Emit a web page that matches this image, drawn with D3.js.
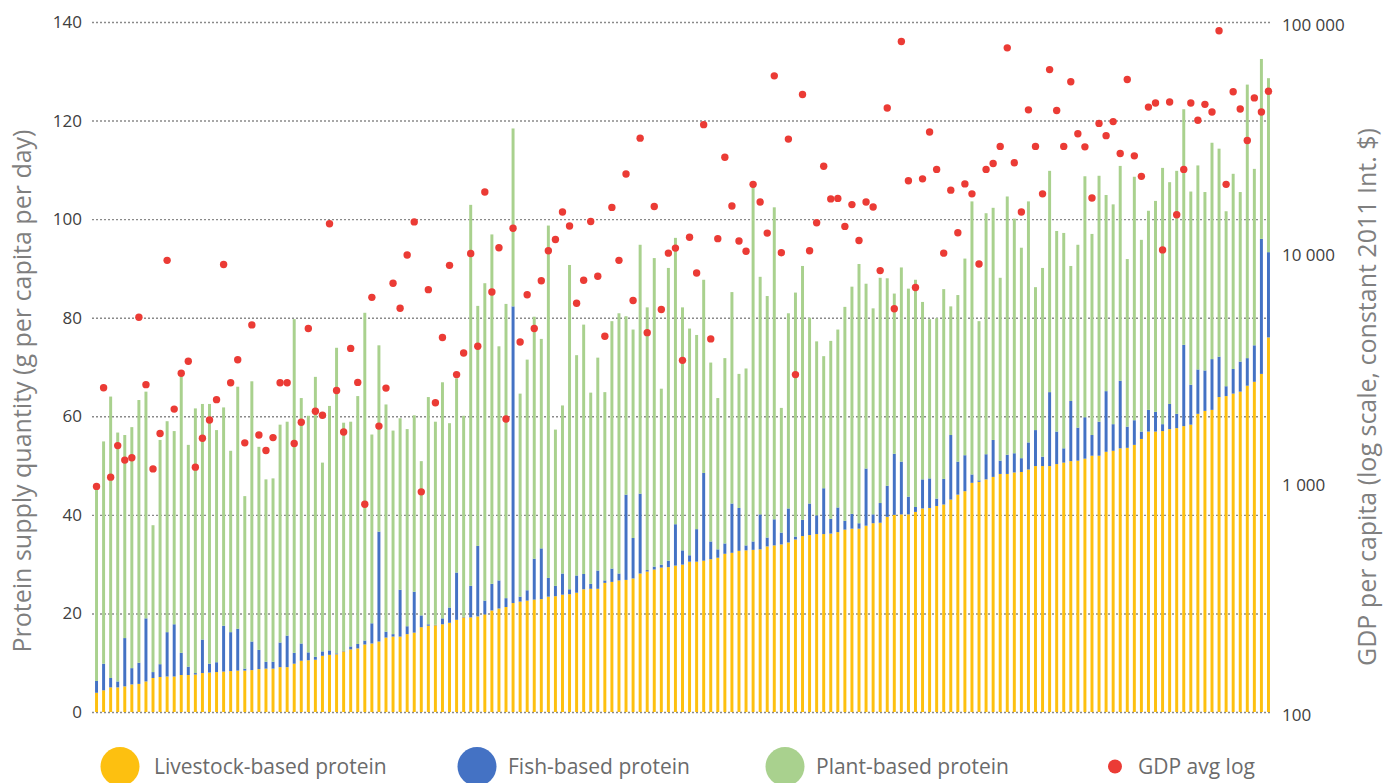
<!DOCTYPE html>
<html>
<head>
<meta charset="utf-8">
<script src="https://cdn.jsdelivr.net/npm/d3@7"></script>
<style>
  body { margin: 0; background: #fff; }
  svg { display: block; font-family: "Open Sans", sans-serif; }
</style>
</head>
<body>
<script>

/******** Data (one entry per country, sorted by livestock protein) *********/

var livestock = [3.9,4.4,5.0,5.0,5.2,5.6,5.7,6.2,6.9,7.1,7.2,7.2,7.5,7.5,7.6,7.9,8.0,8.1,8.2,8.3,
  8.4,8.4,8.5,8.7,8.8,8.8,9.1,9.1,9.8,10.4,10.5,10.6,11.4,11.6,11.7,12.3,12.7,12.9,13.7,13.9,
  14.3,15.1,15.3,15.3,15.8,16.1,17.2,17.5,17.6,17.8,18.1,18.7,19.2,19.2,19.4,19.8,20.6,21.0,21.3,22.1,
  22.4,22.6,22.8,22.9,23.4,23.5,23.8,23.9,24.2,24.9,25.0,25.0,26.2,26.4,26.7,26.8,27.1,28.1,28.5,28.9,
  29.3,29.4,29.7,29.9,30.5,30.5,30.7,31.0,31.3,32.1,32.3,32.7,32.8,32.9,33.0,33.6,33.8,34.0,34.4,35.0,
  35.7,35.9,36.1,36.1,36.2,36.5,37.0,37.2,37.2,37.8,38.3,38.4,39.6,40.0,40.1,40.1,40.6,41.3,41.4,41.8,
  42.1,43.1,44.1,44.8,46.5,46.7,47.2,47.7,48.3,48.3,48.6,48.7,49.2,49.9,49.9,49.9,50.3,50.6,50.9,51.0,
  51.4,52.0,52.0,52.8,53.0,53.5,53.6,54.2,55.4,56.9,56.9,57.0,57.4,57.6,58.0,58.3,60.5,61.1,61.3,63.9,
  64.1,64.6,65.0,66.2,67.0,68.6,76.0]

var fish = [2.4,5.4,1.9,1.2,9.8,3.3,4.3,12.8,1.2,2.6,9.0,10.6,4.5,1.7,0.3,6.8,1.8,2.0,9.3,7.9,
  8.5,0.4,5.8,3.9,1.4,1.4,5.0,6.4,2.2,3.5,1.6,0.6,0.9,0.9,0.2,0.1,0.6,0.9,0.8,4.1,
  22.3,1.2,0.5,9.5,1.6,8.3,2.4,0.3,0.1,1.2,3.1,9.6,0.1,6.4,14.3,2.8,5.4,5.7,1.8,60.2,
  1.0,2.1,8.3,10.3,3.8,2.1,4.3,1.0,3.5,3.1,1.0,3.7,0.5,2.7,1.4,17.3,8.2,16.2,0.3,0.6,
  0.6,1.3,8.4,2.9,1.3,6.6,17.8,3.6,1.7,2.1,10.0,8.7,1.0,1.7,7.1,1.8,5.3,2.4,6.9,0.6,
  3.3,6.4,3.8,9.3,3.0,5.0,1.8,3.0,1.1,11.6,1.8,4.0,6.3,12.4,10.7,3.6,1.0,5.9,6.0,1.5,
  5.2,13.1,6.7,7.3,1.7,0.3,5.1,7.5,2.7,3.9,3.9,2.8,5.5,7.3,1.9,15.0,6.6,2.9,12.2,6.7,
  8.4,4.2,6.9,12.3,5.4,13.7,4.3,5.0,1.5,4.4,4.0,1.4,5.1,2.9,16.5,8.1,9.0,8.2,10.3,8.2,
  2.0,5.0,6.1,5.6,7.4,27.4,17.3]

var plant = [38.8,45.1,57.1,50.5,41.2,48.9,53.3,46.0,29.8,45.5,42.8,39.2,56.7,45.0,53.7,47.8,52.7,47.1,44.3,36.8,
  49.1,35.0,52.8,41.2,37.0,37.2,44.2,43.4,67.7,49.8,48.0,56.8,38.3,49.6,62.0,46.3,45.6,50.3,66.5,38.3,
  37.8,46.1,41.3,34.8,40.0,35.8,31.3,46.1,41.2,47.9,37.4,39.4,40.8,77.3,48.7,64.4,70.9,47.5,59.7,36.1,
  41.2,46.8,49.1,42.5,71.5,31.7,34.1,65.8,44.7,50.6,38.8,43.2,38.2,50.2,52.8,36.2,42.3,50.5,53.3,62.6,
  35.7,59.4,58.1,49.3,46.0,39.4,39.2,36.3,30.7,37.6,42.9,27.2,35.9,72.2,48.2,49.0,63.3,25.3,39.6,49.5,
  51.5,37.7,35.3,26.8,36.1,36.1,43.4,46.1,52.6,37.5,41.8,45.7,42.1,32.5,39.4,42.2,46.1,36.0,32.3,36.6,
  38.5,26.1,33.8,39.9,55.4,32.3,48.9,47.1,37.1,52.4,47.6,42.7,48.9,29.0,38.3,44.9,40.7,43.7,27.4,37.1,
  48.9,40.8,49.9,39.8,44.6,43.6,34.0,49.4,38.9,40.4,42.8,52.0,45.0,49.3,47.8,39.2,41.4,36.2,43.9,42.2,
  35.5,39.6,34.4,55.5,35.8,36.5,35.3]

var gdp = [957,2570,1050,1440,1245,1275,5200,2650,1140,1625,9200,2075,2970,3350,1160,1550,1860,2280,8830,2700,
  3400,1480,4820,1600,1370,1560,2700,2700,1470,1820,4650,2030,1950,13270,2500,1650,3810,2710,800,6350,
  1750,2560,7310,5690,9710,13520,906,6860,2210,4250,8750,2930,3640,9850,3890,18230,6700,10440,1880,12680,
  4060,6520,4650,7500,10120,11330,14930,12980,5990,7540,13580,7850,4300,15630,9200,21840,6150,31260,4460,15770,
  5620,9890,10400,3380,11590,8110,35790,4190,11430,25820,15850,11170,10070,19680,16490,12080,58340,9930,30970,2930,
  48420,10120,13400,23600,17020,17100,12920,16070,11220,16490,15700,8300,42270,5670,82220,20420,7010,20800,33270,22860,
  9890,18570,12130,19770,17900,8870,22860,24250,28780,77200,24450,14930,41500,28780,17900,62100,41200,28780,54950,32680,
  28660,17180,36240,32060,36900,26790,56230,26180,21330,42660,44460,10210,44870,14530,22860,44460,37410,43850,40600,91660,
  19680,49780,41880,30550,46770,40600,50000]

var proteinTicks = [0, 20, 40, 60, 80, 100, 120, 140]
var gdpTicks = [100, 1000, 10000, 100000]

var seriesNames = ["Livestock-based protein", "Fish-based protein", "Plant-based protein", "GDP avg log"]
var seriesColors = ["#FDC010", "#4472C4", "#A9D18E", "#EB3B35"]

/******** Setup *********/

var width = 1394, height = 783
var plotLeft = 93, plotRight = 1272, plotTop = 22, plotBottom = 712

var svg = d3.select("body")
  .append("svg")
    .attr("width", width)
    .attr("height", height)

var rows = livestock.map(function(d, i){
  return { idx: i, livestock: d, fish: fish[i], plant: plant[i], gdp: gdp[i] }
})

/******** Scales *********/

var x = d3.scaleBand()
  .domain(d3.range(rows.length))
  .range([plotLeft, plotRight])
  .paddingInner(0.58)
  .paddingOuter(0.29)

var y = d3.scaleLinear()
  .domain([0, 140])
  .range([plotBottom, plotTop])

var yGdp = d3.scaleLog()
  .domain([100, 100000])
  .range([plotBottom, plotTop])

/******** Grid *********/

svg.append("g")
  .selectAll("line")
  .data(proteinTicks)
  .enter()
  .append("line")
    .attr("x1", plotLeft - 1)
    .attr("x2", plotRight)
    .attr("y1", function(d){ return y(d) + 0.5 })
    .attr("y2", function(d){ return y(d) + 0.5 })
    .attr("stroke", "#8a8a8a")
    .attr("stroke-width", 1.4)
    .attr("stroke-dasharray", "2,2")

/******** Stacked bars *********/

var stack = d3.stack().keys(["livestock", "fish", "plant"])
var layers = stack(rows)

svg.append("g")
  .selectAll("g")
  .data(layers)
  .enter()
  .append("g")
    .attr("fill", function(d, i){ return seriesColors[i] })
  .selectAll("rect")
  .data(function(d){ return d })
  .enter()
  .append("rect")
    .attr("x", function(d){ return x(d.data.idx) })
    .attr("width", x.bandwidth())
    .attr("y", function(d){ return y(d[1]) })
    .attr("height", function(d){ return Math.max(0, y(d[0]) - y(d[1])) })

/******** GDP dots *********/

svg.append("g")
  .selectAll("circle")
  .data(rows)
  .enter()
  .append("circle")
    .attr("cx", function(d){ return x(d.idx) + x.bandwidth() / 2 })
    .attr("cy", function(d){ return yGdp(d.gdp) })
    .attr("r", 3.7)
    .attr("fill", seriesColors[3])

/******** Axes *********/

var leftAxis = d3.axisLeft(y)
  .tickValues(proteinTicks)
  .tickSize(0)
  .tickPadding(11)

var rightAxis = d3.axisRight(yGdp)
  .tickValues(gdpTicks)
  .tickSize(0)
  .tickPadding(10)
  .tickFormat(function(d){ return d3.format(",")(d).replace(/,/g, " ") })

var gl = svg.append("g")
  .attr("transform", "translate(" + plotLeft + ",0)")
  .call(leftAxis)

var gr = svg.append("g")
  .attr("transform", "translate(" + plotRight + ",3)")
  .call(rightAxis)

gl.select(".domain").remove()
gr.select(".domain").remove()

svg.selectAll(".tick text")
  .attr("font-family", "Open Sans")
  .attr("font-size", "17px")
  .attr("fill", "#404040")

/******** Axis titles *********/

svg.append("text")
  .attr("transform", "translate(31, 391) rotate(-90)")
  .attr("text-anchor", "middle")
  .attr("font-size", "25px")
  .attr("fill", "#7f7f7f")
  .text("Protein supply quantity (g per capita per day)")

svg.append("text")
  .attr("transform", "translate(1376, 397) rotate(-90)")
  .attr("text-anchor", "middle")
  .attr("font-size", "25px")
  .attr("fill", "#7f7f7f")
  .text("GDP per capita (log scale, constant 2011 Int. $)")

/******** Legend *********/

var legendX = [120, 477, 785, 1115]
var legendR = [19.5, 19.5, 19.5, 7]
var textX = [154, 508, 816, 1138]

var legend = svg.append("g")
  .selectAll("g")
  .data(seriesNames)
  .enter()
  .append("g")

legend.append("circle")
  .attr("cx", function(d, i){ return legendX[i] })
  .attr("cy", 766.5)
  .attr("r", function(d, i){ return legendR[i] })
  .attr("fill", function(d, i){ return seriesColors[i] })

legend.append("text")
  .attr("x", function(d, i){ return textX[i] })
  .attr("y", 774)
  .attr("font-size", "21px")
  .attr("fill", "#6b6b6b")
  .text(function(d){ return d })

</script>
</body>
</html>
